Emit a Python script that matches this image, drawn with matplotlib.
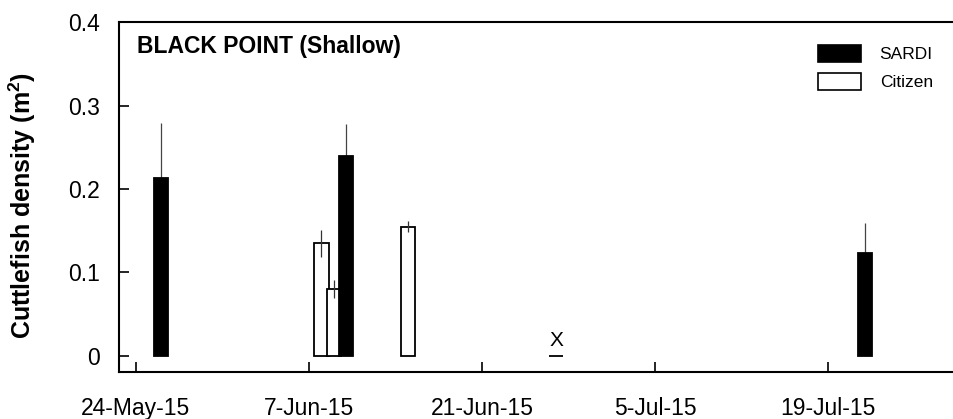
import matplotlib
matplotlib.use("Agg")
import matplotlib.pyplot as plt
import matplotlib.dates as mdates
from matplotlib.patches import Patch
from matplotlib.ticker import FuncFormatter
import numpy as np
import pandas as pd

plt.rcParams['font.family'] = ['Liberation Sans', 'DejaVu Sans']

# Survey data: cuttlefish density (per m^2), mean and error
sardi_dates = ['2015-05-26', '2015-06-10', '2015-07-22']
sardi_density = [0.213, 0.240, 0.123]
sardi_err = [0.066, 0.038, 0.036]

citizen_dates = ['2015-06-08', '2015-06-09', '2015-06-15', '2015-06-27']
citizen_density = [0.135, 0.080, 0.155, 0.0]
citizen_err = [0.016, 0.0105, 0.0065, 0.0]

tick_dates = ['2015-05-24', '2015-06-07', '2015-06-21', '2015-07-05', '2015-07-19']
y_ticks = [0, 0.1, 0.2, 0.3, 0.4]
y_tick_labels = ['0', '0.1', '0.2', '0.3', '0.4']

site_title = 'BLACK POINT (Shallow)'
y_label = 'Cuttlefish density (m$^\\mathregular{2}$)'

sx = mdates.date2num(pd.to_datetime(sardi_dates))
cx = mdates.date2num(pd.to_datetime(citizen_dates))
tx = mdates.date2num(pd.to_datetime(tick_dates))

W, H = 954, 419
fig = plt.figure(figsize=(W / 100, H / 100), dpi=100)
ax = fig.add_axes([119 / W, 1 - 371.7 / H, (W - 119) / W, (371.7 - 22.3) / H])

bar_w = 1.16
ax.bar(cx, citizen_density, width=bar_w, color='white', edgecolor='black',
       linewidth=1.3, zorder=2)
ax.errorbar(cx, citizen_density, yerr=citizen_err, fmt='none',
            ecolor='#333333', elinewidth=0.9, capsize=0, zorder=3)
ax.bar(sx, sardi_density, width=bar_w, color='black', edgecolor='black',
       linewidth=1.3, zorder=4)
ax.errorbar(sx, sardi_density, yerr=sardi_err, fmt='none',
            ecolor='#444444', elinewidth=0.9, capsize=0, zorder=3)

# mark surveys where no cuttlefish were recorded
for xv, v in zip(cx, citizen_density):
    if v == 0:
        ax.text(xv, 0.007, 'X', ha='center', va='bottom', fontsize=15,
                fontweight='normal', zorder=5)

x0 = tx[0]
ax.set_xlim(x0 - 1.375, x0 + 66.2)
ax.set_ylim(-0.0192, 0.4)

ax.set_xticks(tx)
ax.xaxis.set_major_formatter(FuncFormatter(
    lambda v, p: f"{mdates.num2date(v).day}-{mdates.num2date(v):%b-%y}"))
ax.set_yticks(y_ticks)
ax.set_yticklabels(y_tick_labels)

ax.tick_params(axis='both', direction='in', labelsize=16.5, width=1.2, length=7)
ax.tick_params(axis='y', pad=14)
ax.tick_params(axis='x', pad=18.5)

for s in ['left', 'bottom', 'top']:
    ax.spines[s].set_linewidth(1.5)
ax.spines['right'].set_visible(False)

ax.set_ylabel(y_label, fontsize=18, fontweight='bold')
ax.yaxis.set_label_coords(-0.097, 0.475)

ax.text(0.0212, 0.913, site_title, transform=ax.transAxes, fontsize=16.5,
        fontweight='bold', ha='left', va='baseline')

handles = [Patch(facecolor='black', edgecolor='black', linewidth=1.2, label='SARDI'),
           Patch(facecolor='white', edgecolor='black', linewidth=1.2, label='Citizen')]
ax.legend(handles=handles, loc='upper left',
          bbox_to_anchor=(817.7 / W, 1 - 45 / H), bbox_transform=fig.transFigure,
          frameon=False, fontsize=12.5, handlelength=2.47, handleheight=1.15,
          handletextpad=1.1, labelspacing=0.6, borderpad=0, borderaxespad=0)

fig.savefig('out.png', dpi=100)
